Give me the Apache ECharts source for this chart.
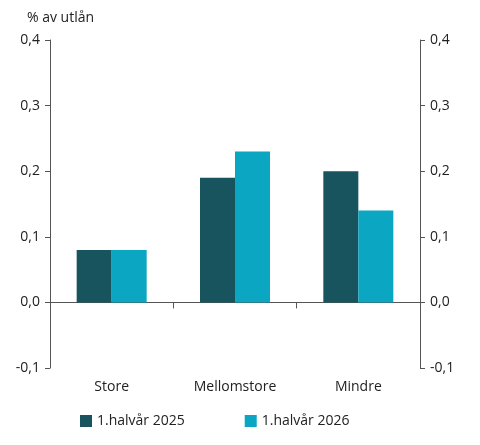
<!DOCTYPE html>
<html><head><meta charset="utf-8">
<script src="https://cdn.jsdelivr.net/npm/echarts@6/dist/echarts.min.js"></script>
<style>body{margin:0}#main{width:480px;height:445px}</style></head>
<body><div id="main"></div>
<script>
var categories = ['Store', 'Mellomstore', 'Mindre'];
var h2025 = [0.08, 0.19, 0.2];
var h2026 = [0.08, 0.23, 0.14];
var names = ['1.halvår 2025', '1.halvår 2026'];

var chart = echarts.init(document.getElementById('main'));
var font = 'Open Sans';
var yAx = function (pos) {
  return {
    type: 'value', position: pos, min: -0.1, max: 0.4, interval: 0.1,
    axisLine: { show: true, lineStyle: { color: '#555' } },
    axisTick: { show: true, length: 5, lineStyle: { color: '#555' } },
    splitLine: { show: false },
    axisLabel: { color: '#222', fontSize: 14, fontFamily: font, margin: 10,
      formatter: function (v) { return v.toFixed(1).replace('.', ','); } }
  };
};
chart.setOption({
  title: { text: '% av utlån', left: 22, top: 6, textStyle: { fontSize: 14, fontWeight: 'normal', color: '#222', fontFamily: font } },
  legend: { bottom: 12, left: 75, itemWidth: 12, itemHeight: 12, itemGap: 60, icon: 'rect',
    textStyle: { fontSize: 14, color: '#222', fontFamily: font } },
  grid: { left: 50, right: 60, top: 40, bottom: 77 },
  xAxis: [
    { type: 'category', data: categories, position: 'bottom',
      axisLine: { show: false, onZero: false }, axisTick: { show: false },
      axisLabel: { color: '#222', fontSize: 14, fontFamily: font, margin: 12 } },
    { type: 'category', data: categories, position: 'bottom', gridIndex: 0,
      axisLine: { show: true, onZero: true, lineStyle: { color: '#555' } },
      axisTick: { show: true, length: 6, lineStyle: { color: '#555' } },
      axisLabel: { show: false } }
  ],
  yAxis: [yAx('left'), yAx('right')],
  series: [
    { name: names[0], type: 'bar', data: h2025, barWidth: 35, barGap: '0%', itemStyle: { color: '#17545d' } },
    { name: names[1], type: 'bar', data: h2026, barWidth: 35, barGap: '0%', itemStyle: { color: '#0aa6c2' } }
  ]
});
</script></body></html>
